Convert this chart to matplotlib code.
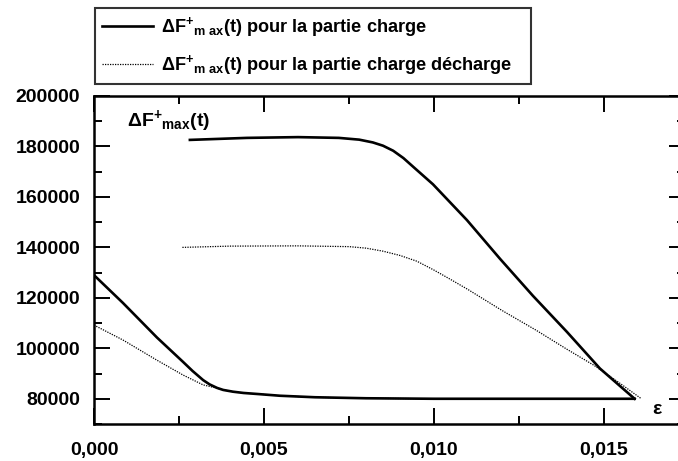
import matplotlib
matplotlib.use("Agg")
import matplotlib.pyplot as plt
from matplotlib.ticker import MultipleLocator, FuncFormatter

plt.rcParams['font.family'] = ['Liberation Sans', 'DejaVu Sans']
plt.rcParams['font.weight'] = 'bold'
plt.rcParams['mathtext.fontset'] = 'custom'
plt.rcParams['mathtext.rm'] = 'Liberation Sans:bold'
plt.rcParams['mathtext.it'] = 'Liberation Sans:bold'
plt.rcParams['mathtext.bf'] = 'Liberation Sans:bold'

# courbe charge (trait plein) : branche basse puis branche haute
charge_bas_x = [0.0, 0.00085, 0.00185, 0.00262, 0.0029, 0.00321, 0.0034, 0.00362,
                0.0038, 0.00409, 0.0044, 0.0048, 0.00547, 0.0065, 0.008, 0.010,
                0.012, 0.014, 0.0159]
charge_bas_y = [129000, 118000, 104300, 94600, 91000, 87400, 85700, 84300,
                83500, 82800, 82300, 81900, 81200, 80600, 80200, 80000,
                80000, 80000, 80000]
charge_haut_x = [0.00282, 0.0045, 0.006, 0.0072, 0.0078, 0.0082, 0.0085, 0.0088,
                 0.0091, 0.0094, 0.00997, 0.01097, 0.01194, 0.01291, 0.01391,
                 0.01488, 0.0159]
charge_haut_y = [182600, 183400, 183700, 183400, 182700, 181600, 180300, 178300,
                 175400, 171800, 165000, 150800, 135500, 120800, 106500,
                 92000, 80000]

# courbe charge decharge (pointilles)
decharge_bas_x = [0.0, 0.00085, 0.00185, 0.00262, 0.00321, 0.00362, 0.0038, 0.00409,
                  0.0044, 0.0048, 0.00547, 0.0065, 0.008, 0.010, 0.012, 0.014, 0.0159]
decharge_bas_y = [109200, 103300, 95300, 89400, 85500, 84200, 83500, 82800,
                  82300, 81900, 81200, 80600, 80200, 80000, 80000, 80000, 80000]
decharge_haut_x = [0.0026, 0.004, 0.006, 0.0075, 0.008, 0.0085, 0.009, 0.0095,
                   0.010, 0.0105, 0.011, 0.012, 0.013, 0.0139, 0.0147, 0.0154, 0.0161]
decharge_haut_y = [140000, 140500, 140600, 140300, 139700, 138500, 136800, 134500,
                   131000, 127200, 123300, 115000, 107200, 99700, 93300, 86800, 80000]

lbl_charge = r'$\Delta\mathrm{F}^{+}{}_{\mathrm{m\ ax}}\mathrm{(t)}$ pour la partie charge'
lbl_decharge = r'$\Delta\mathrm{F}^{+}{}_{\mathrm{m\ ax}}\mathrm{(t)}$ pour la partie charge décharge   '

fig = plt.figure(figsize=(6.78, 4.61), dpi=100)
ax = fig.add_axes([94 / 678, 37 / 461, 591 / 678, 328 / 461])

ax.plot(decharge_bas_x, decharge_bas_y, color='black', lw=0.9, ls=(0, (1, 1)))
ax.plot(decharge_haut_x, decharge_haut_y, color='black', lw=0.9, ls=(0, (1, 1)),
        label=lbl_decharge)
ax.plot(charge_bas_x, charge_bas_y, color='black', lw=1.9)
ax.plot(charge_haut_x, charge_haut_y, color='black', lw=1.9, label=lbl_charge)

ax.set_xlim(0, 591 / 34000)
ax.set_ylim(70000, 200000)

ax.xaxis.set_major_locator(MultipleLocator(0.005))
ax.xaxis.set_minor_locator(MultipleLocator(0.0025))
ax.yaxis.set_major_locator(MultipleLocator(20000))
ax.yaxis.set_minor_locator(MultipleLocator(10000))
ax.xaxis.set_major_formatter(FuncFormatter(lambda v, p: ('%.3f' % v).replace('.', ',')))
ax.yaxis.set_major_formatter(FuncFormatter(lambda v, p: '%d' % v))
ax.set_yticks([80000, 100000, 120000, 140000, 160000, 180000, 200000])

ax.tick_params(which='both', direction='in', top=True, right=True, width=1.4)
ax.tick_params(which='major', length=11.5)
ax.tick_params(which='minor', length=5.8)
ax.tick_params(axis='y', labelsize=14, pad=10)
ax.tick_params(axis='x', labelsize=14, pad=13)
for s in ax.spines.values():
    s.set_linewidth(1.8)

ax.text(127 / 678, 1 - 126 / 461, r'$\Delta\mathrm{F}^{+}{}_{\mathrm{max}}\mathrm{(t)}$',
        transform=fig.transFigure, fontsize=14, ha='left', va='baseline')
ax.text(657 / 678, 1 - 409 / 461, 'ε', transform=fig.transFigure, fontsize=14,
        ha='center', va='center')

h, l = ax.get_legend_handles_labels()
leg = ax.legend(h[::-1], l[::-1], loc='upper left', bbox_to_anchor=(95 / 678, 1 - 8 / 461),
                bbox_transform=fig.transFigure, borderaxespad=0, fancybox=False,
                frameon=True, edgecolor='black', fontsize=13.1, handlelength=2.8,
                handletextpad=0.45, labelspacing=0.75, borderpad=0.4)
leg.get_frame().set_linewidth(1.5)

fig.savefig('out.png', dpi=100)
